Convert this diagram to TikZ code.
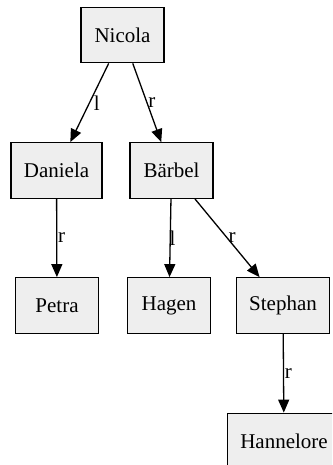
\documentclass[tikz,border=0pt]{standalone}
\usepackage{fontspec}
\setmainfont{Liberation Serif}
\usepackage{xcolor}
\usepackage{tikz}
\usetikzlibrary{arrows.meta}
\definecolor{boxgray}{RGB}{238,238,238}

\begin{document}
\begin{tikzpicture}[
    x=1pt, y=-1pt,
    >={Triangle[length=13pt, width=11pt]},
    every node/.style={font=\fontsize{21}{24}\selectfont},
    person/.style={draw, fill=boxgray, line width=1.3pt, minimum width=83pt,
        minimum height=55.5pt, inner xsep=12.8pt},
    edgelbl/.style={anchor=west, inner sep=0.8pt},
    link/.style={->, line width=1.3pt},
]
    \useasboundingbox (0,0) rectangle (332,465);
    \clip (0,0) rectangle (332,465);

    % nodes of the tree
    \node[person] (nicola) at (122.5, 35) {Nicola};
    \node[person] (daniela) at (56.5, 170.5) {Daniela};
    \node[person] (baerbel) at (171.5, 170.5) {Bärbel};
    \node[person] (petra) at (57, 305.5) {Petra};
    \node[person] (hagen) at (169, 305.5) {Hagen};
    \node[person] (stephan) at (283, 305.5) {Stephan};
    \node[person] (hannelore) at (284, 441) {Hannelore};

    % left and right children
    \draw[link] (nicola) -- node[edgelbl, xshift=3pt] {l} (daniela);
    \draw[link] (nicola) -- node[edgelbl] {r} (baerbel);
    \draw[link] (daniela) -- node[edgelbl] {r} (petra);
    \draw[link] (baerbel) -- node[edgelbl, xshift=-2pt] {l} (hagen);
    \draw[link] (baerbel) -- node[edgelbl] {r} (stephan);
    \draw[link] (stephan) -- node[edgelbl] {r} (hannelore);
\end{tikzpicture}
\end{document}
